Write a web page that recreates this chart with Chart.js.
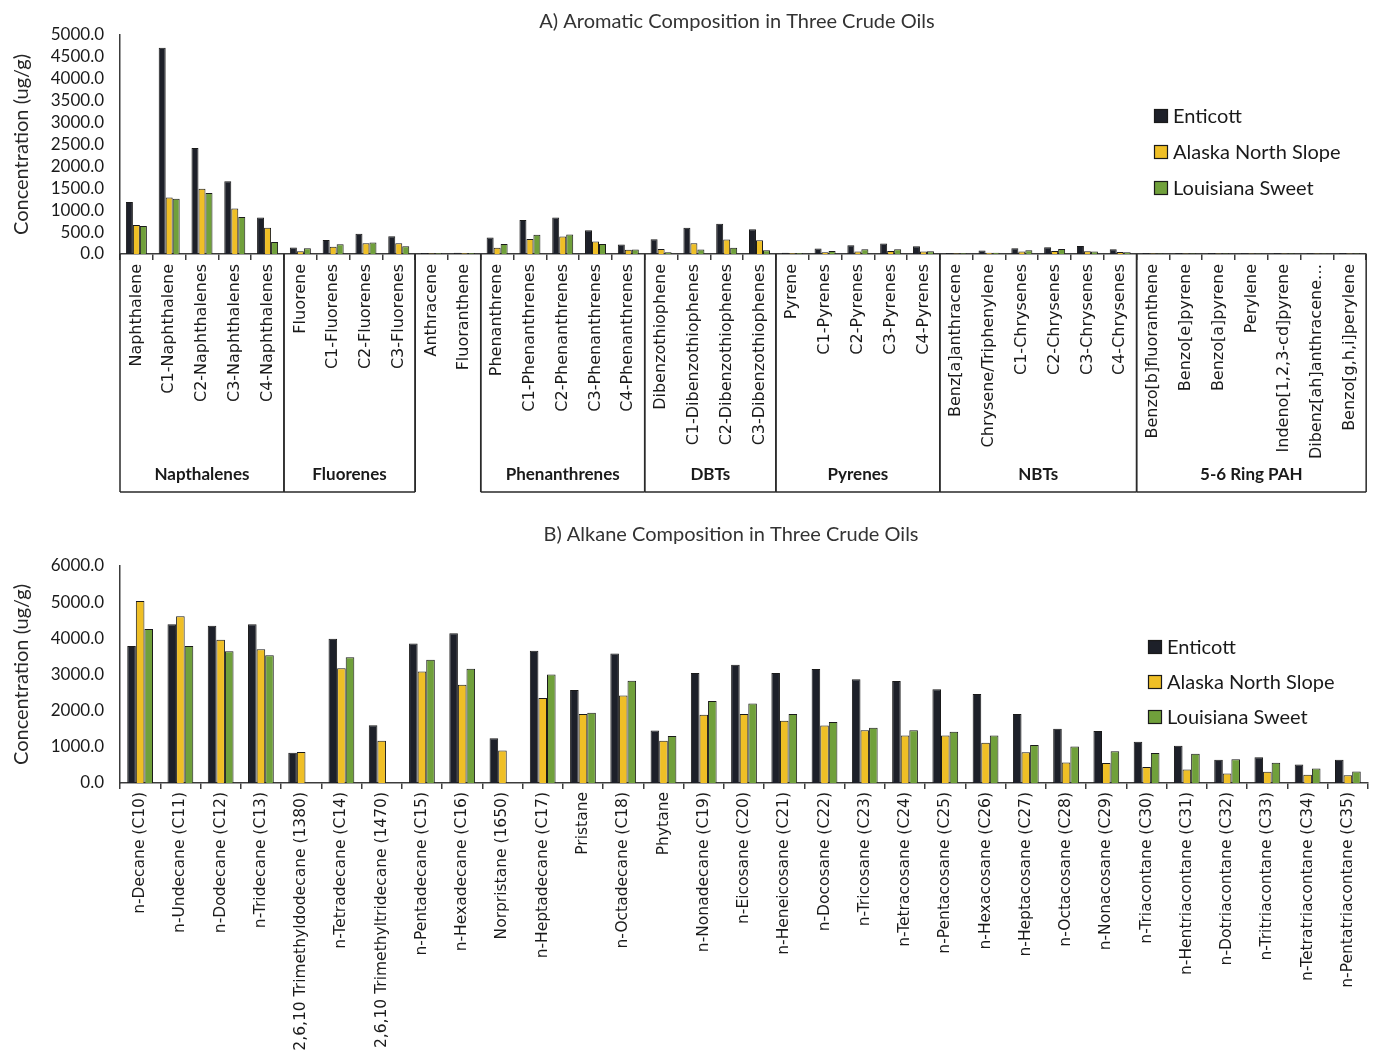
<!DOCTYPE html>
<html>
<head>
<meta charset="utf-8">
<title>Aromatic and Alkane Composition in Three Crude Oils</title>
<script src="https://cdn.jsdelivr.net/npm/chart.js@4.4.0/dist/chart.umd.min.js"></script>
<style>
  html, body { margin: 0; padding: 0; background: #ffffff; }
  #wrap { position: relative; width: 1373px; height: 1060px; }
  canvas { position: absolute; left: 0; }
  #aromatic { top: 0; }
  #alkane { top: 500px; }
</style>
</head>
<body>
<div id="wrap">
  <canvas id="aromatic" width="1373" height="500"></canvas>
  <canvas id="alkane" width="1373" height="560"></canvas>
</div>
<script>
// ---- Panel A: aromatic compounds (ug/g) ----
const aromaticLabels = [
  'Naphthalene', 'C1-Naphthalene', 'C2-Naphthalenes', 'C3-Naphthalenes', 'C4-Naphthalenes',
  'Fluorene', 'C1-Fluorenes', 'C2-Fluorenes', 'C3-Fluorenes',
  'Anthracene', 'Fluoranthene',
  'Phenanthrene', 'C1-Phenanthrenes', 'C2-Phenanthrenes', 'C3-Phenanthrenes', 'C4-Phenanthrenes',
  'Dibenzothiophene', 'C1-Dibenzothiophenes', 'C2-Dibenzothiophenes', 'C3-Dibenzothiophenes',
  'Pyrene', 'C1-Pyrenes', 'C2-Pyrenes', 'C3-Pyrenes', 'C4-Pyrenes',
  'Benz[a]anthracene', 'Chrysene/Triphenylene', 'C1-Chrysenes', 'C2-Chrysenes', 'C3-Chrysenes', 'C4-Chrysenes',
  'Benzo[b]fluoranthene', 'Benzo[e]pyrene', 'Benzo[a]pyrene', 'Perylene',
  'Indeno[1,2,3-cd]pyrene', 'Dibenz[ah]anthracene…', 'Benzo[g,h,i]perylene'
];
const aromaticEnticott = [
  1190, 4710, 2420, 1660, 835,
  150, 320, 465, 405,
  22, 28,
  375, 775, 835, 540, 215,
  335, 600, 690, 565,
  28, 125, 200, 240, 175,
  22, 80, 130, 155, 185, 110,
  22, 20, 20, 18, 20, 16, 20
];
const aromaticAlaska = [
  660, 1290, 1490, 1040, 600,
  60, 165, 245, 245,
  15, 18,
  140, 345, 400, 285, 95,
  115, 245, 330, 315,
  18, 40, 55, 70, 55,
  15, 30, 55, 70, 60, 45,
  15, 14, 14, 14, 14, 12, 14
];
const aromaticLouisiana = [
  640, 1260, 1390, 845, 275,
  130, 220, 260, 175,
  18, 22,
  230, 440, 445, 230, 100,
  40, 100, 140, 85,
  20, 70, 110, 110, 65,
  18, 30, 85, 115, 55, 40,
  16, 15, 15, 14, 15, 13, 16
];
const aromaticGroupNames = ['Napthalenes', 'Fluorenes', '', 'Phenanthrenes', 'DBTs', 'Pyrenes', 'NBTs', '5-6 Ring PAH'];
const aromaticGroupSizes = [5, 4, 2, 5, 4, 5, 6, 7];
const aromaticTicks = [0, 500, 1000, 1500, 2000, 2500, 3000, 3500, 4000, 4500, 5000];

// ---- Panel B: alkanes and isoprenoids (ug/g) ----
const alkaneLabels = [
  'n-Decane (C10)', 'n-Undecane (C11)', 'n-Dodecane (C12)', 'n-Tridecane (C13)',
  '2,6,10 Trimethyldodecane (1380)', 'n-Tetradecane (C14)', '2,6,10 Trimethyltridecane (1470)',
  'n-Pentadecane (C15)', 'n-Hexadecane (C16)', 'Norpristane (1650)', 'n-Heptadecane (C17)',
  'Pristane', 'n-Octadecane (C18)', 'Phytane', 'n-Nonadecane (C19)', 'n-Eicosane (C20)',
  'n-Heneicosane (C21)', 'n-Docosane (C22)', 'n-Tricosane (C23)', 'n-Tetracosane (C24)',
  'n-Pentacosane (C25)', 'n-Hexacosane (C26)', 'n-Heptacosane (C27)', 'n-Octacosane (C28)',
  'n-Nonacosane (C29)', 'n-Triacontane (C30)', 'n-Hentriacontane (C31)', 'n-Dotriacontane (C32)',
  'n-Tritriacontane (C33)', 'n-Tetratriacontane (C34)', 'n-Pentatriacontane (C35)'
];
const alkaneEnticott = [
  3790, 4390, 4350, 4390, 835, 3990, 1600, 3860, 4140, 1240, 3660, 2570, 3580, 1450,
  3040, 3270, 3040, 3150, 2870, 2820, 2590, 2460, 1910, 1500, 1440, 1140, 1030, 640, 710, 510, 640
];
const alkaneAlaska = [
  5030, 4610, 3960, 3700, 855, 3170, 1170, 3080, 2720, 900, 2350, 1910, 2420, 1170,
  1890, 1910, 1720, 1590, 1460, 1310, 1310, 1110, 850, 570, 550, 440, 370, 260, 310, 225, 215
];
const alkaneLouisiana = [
  4260, 3790, 3640, 3530, null, 3480, null, 3410, 3160, null, 3000, 1940, 2830, 1300,
  2270, 2200, 1910, 1690, 1530, 1460, 1420, 1310, 1050, 1010, 880, 830, 810, 660, 560, 400, 315
];
const alkaneTicks = [0, 1000, 2000, 3000, 4000, 5000, 6000];

// ---- shared series styling ----
const seriesNames = ['Enticott', 'Alaska North Slope', 'Louisiana Sweet'];
const seriesColors = ['#1d2029', '#efbf26', '#70a03b'];
const INK = '#1a1a1a';
const AXIS = '#3c3c3c';

// Draws the panel heading, the in-plot legend and (optionally) the boxed category groups.
const panelDecor = {
  id: 'panelDecor',
  afterDraw(chart, args, opts) {
    const ctx = chart.ctx;
    const area = chart.chartArea;
    ctx.save();

    // heading
    ctx.fillStyle = '#333333';
    ctx.font = '20px Lato';
    ctx.textAlign = 'center';
    ctx.textBaseline = 'middle';
    ctx.fillText(opts.title, opts.titleX, opts.titleY);

    // legend
    ctx.textAlign = 'left';
    ctx.font = '20px Lato';
    chart.data.datasets.forEach((ds, i) => {
      const y = opts.legendY + i * opts.legendGap;
      ctx.fillStyle = ds.backgroundColor;
      ctx.fillRect(opts.legendX, y - 7, 14, 14);
      ctx.strokeStyle = INK;
      ctx.lineWidth = 1.2;
      ctx.strokeRect(opts.legendX + 0.5, y - 6.5, 13, 13);
      ctx.fillStyle = INK;
      ctx.fillText(ds.label, opts.legendX + 19, y + 1);
    });

    // category group boxes under the axis
    if (opts.groups) {
      const xs = chart.scales.x;
      const n = chart.data.labels.length;
      const edge = i => i === 0 ? area.left
        : i === n ? area.right
        : (xs.getPixelForValue(i - 1) + xs.getPixelForValue(i)) / 2;
      const bottom = area.bottom + opts.groups.depth;
      ctx.strokeStyle = '#2a2a2a';
      ctx.lineWidth = 1.5;
      ctx.fillStyle = INK;
      ctx.font = 'bold 17px Lato';
      ctx.textAlign = 'center';
      let start = 0;
      opts.groups.sizes.forEach((size, g) => {
        const x0 = edge(start);
        const x1 = edge(start + size);
        ctx.beginPath();
        ctx.moveTo(x0, area.bottom); ctx.lineTo(x0, bottom);
        ctx.moveTo(x1, area.bottom); ctx.lineTo(x1, bottom);
        const name = opts.groups.names[g];
        if (name) {
          ctx.moveTo(x0, bottom); ctx.lineTo(x1, bottom);
        }
        ctx.stroke();
        if (name) ctx.fillText(name, (x0 + x1) / 2, bottom - 17);
        start += size;
      });
    }
    ctx.restore();
  }
};

function buildPanel(canvasId, labels, series, cfg) {
  const datasets = series.map((values, i) => ({
    label: seriesNames[i],
    data: values,
    backgroundColor: seriesColors[i],
    borderColor: INK,
    borderWidth: 1,
    categoryPercentage: cfg.categoryPercentage,
    barPercentage: 1.0
  }));
  return new Chart(document.getElementById(canvasId), {
    type: 'bar',
    data: { labels, datasets },
    options: {
      responsive: false,
      animation: false,
      devicePixelRatio: 1,
      layout: { padding: cfg.padding },
      plugins: {
        legend: { display: false },
        title: { display: false },
        tooltip: { enabled: false },
        panelDecor: cfg.decor
      },
      scales: {
        x: {
          offset: true,
          grid: {
            display: true,
            drawOnChartArea: false,
            drawTicks: true,
            tickLength: 6,
            color: AXIS,
            lineWidth: 1.5
          },
          border: { display: true, color: AXIS, width: 1.5 },
          ticks: {
            autoSkip: false,
            minRotation: 90,
            maxRotation: 90,
            padding: cfg.labelPad,
            color: INK,
            font: { family: '"DejaVu Sans", sans-serif', size: cfg.labelSize }
          },
          afterFit(scale) { scale.height = cfg.xHeight; }
        },
        y: {
          min: 0,
          max: cfg.yMax,
          afterBuildTicks(scale) { scale.ticks = cfg.yTicks.map(v => ({ value: v })); },
          grid: { display: false },
          border: { display: true, color: AXIS, width: 1.5 },
          ticks: {
            autoSkip: false,
            padding: 8,
            color: INK,
            font: { family: 'Lato', size: 17 },
            callback: v => Number(v).toFixed(1)
          },
          title: {
            display: true,
            text: 'Concentration (ug/g)',
            color: '#262626',
            font: { family: 'Lato', size: 20 },
            padding: { top: 10, bottom: 0 }
          },
          afterFit(scale) { scale.width = 120; }
        }
      }
    },
    plugins: [panelDecor]
  });
}

Promise.all([
  document.fonts.load('20px Lato'),
  document.fonts.load('bold 17px Lato'),
  document.fonts.load('16px "DejaVu Sans"')
]).catch(() => {}).then(() => {
  buildPanel('aromatic', aromaticLabels, [aromaticEnticott, aromaticAlaska, aromaticLouisiana], {
    categoryPercentage: 0.64,
    padding: { left: 0, right: 2, top: 35, bottom: 8 },
    xHeight: 238,
    labelSize: 16,
    labelPad: 4,
    yMax: 5000,
    yTicks: aromaticTicks,
    decor: {
      title: 'A) Aromatic Composition in Three Crude Oils',
      titleX: 737, titleY: 22,
      legendX: 1154, legendY: 116, legendGap: 36,
      groups: { names: aromaticGroupNames, sizes: aromaticGroupSizes, depth: 238 }
    }
  });

  buildPanel('alkane', alkaneLabels, [alkaneEnticott, alkaneAlaska, alkaneLouisiana], {
    categoryPercentage: 0.64,
    padding: { left: 0, right: 5, top: 66, bottom: 5 },
    xHeight: 272,
    labelSize: 15.5,
    labelPad: 3,
    yMax: 6000,
    yTicks: alkaneTicks,
    decor: {
      title: 'B) Alkane Composition in Three Crude Oils',
      titleX: 731, titleY: 35,
      legendX: 1148, legendY: 147, legendGap: 35,
      groups: null
    }
  });
});
</script>
</body>
</html>
